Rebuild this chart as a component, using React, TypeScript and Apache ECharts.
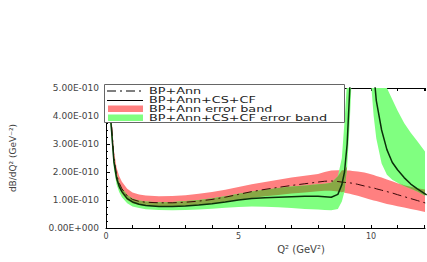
import React, { useEffect, useRef } from "react";
import * as echarts from "echarts";

// Q^2 sample points (GeV^2)
const Q2 = [0.05, 0.1, 0.15, 0.2, 0.3, 0.4, 0.5, 0.6, 0.8, 1.0, 1.25, 1.5, 2, 2.5, 3, 3.5, 4, 4.5, 5, 5.5, 6, 6.5, 7, 7.5, 8, 8.25, 8.5, 8.75, 8.9, 9.0, 9.1, 9.2, 9.3, 9.5, 9.75, 9.9, 10.0, 10.1, 10.2, 10.4, 10.6, 10.8, 11, 11.25, 11.5, 11.75, 12.1];

// dB/dQ^2 in units of 1E-010 GeV^-2
const bpAnn = [7.0, 5.6, 4.4, 3.8, 2.5, 1.9, 1.6, 1.4, 1.15, 1.02, 0.95, 0.92, 0.9, 0.9, 0.92, 0.96, 1.02, 1.1, 1.2, 1.3, 1.38, 1.45, 1.52, 1.58, 1.64, 1.67, 1.68, 1.66, 1.64, 1.63, 1.62, 1.61, 1.6, 1.56, 1.5, 1.47, 1.45, 1.43, 1.4, 1.35, 1.3, 1.25, 1.19, 1.12, 1.05, 0.98, 0.88];
const bpAnnUp = [8, 6.1, 4.7, 4.05, 2.75, 2.15, 1.85, 1.65, 1.4, 1.27, 1.2, 1.16, 1.13, 1.14, 1.17, 1.22, 1.29, 1.37, 1.46, 1.56, 1.64, 1.72, 1.8, 1.87, 1.93, 2.0, 2.05, 2.06, 2.06, 2.06, 2.05, 2.05, 2.04, 2.02, 1.98, 1.95, 1.92, 1.89, 1.86, 1.8, 1.73, 1.67, 1.6, 1.53, 1.47, 1.42, 1.36];
const bpAnnLow = [6.3, 5.1, 4.1, 3.55, 2.3, 1.7, 1.42, 1.22, 1.0, 0.88, 0.82, 0.79, 0.77, 0.77, 0.79, 0.82, 0.87, 0.93, 1.0, 1.07, 1.13, 1.18, 1.23, 1.27, 1.31, 1.33, 1.33, 1.3, 1.28, 1.26, 1.24, 1.22, 1.2, 1.15, 1.08, 1.04, 1.01, 0.98, 0.96, 0.91, 0.86, 0.82, 0.78, 0.73, 0.68, 0.63, 0.56];

const full = [7.0, 5.3, 4.2, 3.6, 2.35, 1.78, 1.48, 1.3, 1.05, 0.93, 0.85, 0.8, 0.77, 0.77, 0.79, 0.82, 0.87, 0.93, 1.0, 1.05, 1.08, 1.1, 1.12, 1.13, 1.13, 1.12, 1.1, 1.2, 1.55, 2.0, 3.0, 5.0, 8, 12, 14, 12, 7.5, 5.6, 4.55, 3.5, 2.8, 2.35, 2.08, 1.8, 1.57, 1.4, 1.18];
const fullUp = [7.5, 5.6, 4.45, 3.85, 2.55, 1.95, 1.62, 1.42, 1.18, 1.05, 0.98, 0.95, 0.92, 0.93, 0.96, 1.0, 1.06, 1.13, 1.22, 1.3, 1.37, 1.43, 1.48, 1.52, 1.56, 1.58, 1.62, 1.85, 2.5, 3.8, 5.3, 9, 12, 14, 14, 14, 12, 10, 8.5, 6.2, 5.0, 4.6, 4.2, 3.75, 3.4, 3.1, 2.65];
const fullLow = [6.0, 4.9, 3.9, 3.3, 2.1, 1.55, 1.28, 1.1, 0.88, 0.77, 0.71, 0.67, 0.64, 0.63, 0.64, 0.66, 0.69, 0.72, 0.75, 0.77, 0.76, 0.74, 0.71, 0.68, 0.66, 0.64, 0.63, 0.68, 0.95, 1.3, 2.2, 3.8, 6, 9, 9, 7, 5.2, 4.0, 3.2, 2.3, 1.9, 1.72, 1.62, 1.5, 1.4, 1.3, 1.12];

const yTicks = [0, 1, 2, 3, 4, 5];
const legendNames = ["BP+Ann", "BP+Ann+CS+CF", "BP+Ann error band", "BP+Ann+CS+CF error band"];

const RED = "#FF8080";
const GREEN = "#80FF80";
const OLIVE = "#88A845";
const FONT = "DejaVu Sans";

const pairs = (ys: number[]) => Q2.map((x, i) => [x, ys[i]]);

function band(name: string, low: number[], up: number[], color: string) {
  return {
    type: "custom",
    name,
    silent: true,
    clip: true,
    z: 2,
    data: Q2.map((x, i) => [x, low[i], up[i]]),
    encode: { x: 0, y: [1, 2] },
    renderItem: (params: any, api: any) => {
      if (params.dataIndex !== 0) return null;
      const top = Q2.map((x, i) => api.coord([x, up[i]]));
      const bottom = Q2.map((x, i) => api.coord([x, low[i]])).reverse();
      const cs = params.coordSys;
      return {
        type: "polygon",
        shape: { points: top.concat(bottom) },
        style: { fill: color, stroke: null },
        clipPath: { type: "rect", shape: { x: cs.x, y: cs.y, width: cs.width, height: cs.height } },
      };
    },
  };
}

export default function App() {
  const ref = useRef<HTMLDivElement>(null);
  useEffect(() => {
    if (!ref.current) return;
    const chart = echarts.init(ref.current, undefined, { renderer: "svg" });
    const ovLow = Q2.map((_, i) => Math.max(bpAnnLow[i], fullLow[i]));
    const ovUp = Q2.map((_, i) => Math.max(Math.min(bpAnnUp[i], fullUp[i]), ovLow[i]));
    const axisCol = { color: "#000", width: 1 };
    const legendText = (i: number, y: number) => ({
      type: "text", x: 149, y, scaleX: 1.6, z: 101,
      style: { text: legendNames[i], fontSize: 8, fontFamily: FONT, fill: "#222", verticalAlign: "middle" },
    });
    chart.setOption({
      animation: false,
      backgroundColor: "#fff",
      grid: { left: 105, top: 88, right: 0, bottom: 34, containLabel: false },
      xAxis: [
        {
          type: "value", min: 0, max: 12.04, interval: 1, position: "bottom",
          axisLine: { show: true, lineStyle: axisCol },
          axisTick: { show: true, inside: true, length: 3, lineStyle: axisCol },
          splitLine: { show: false },
          axisLabel: {
            fontSize: 8, fontFamily: FONT, color: "#444", margin: 4,
            formatter: (v: number) => (v % 5 === 0 ? String(v) : ""),
            showMaxLabel: false,
          },
          name: "Q² (GeV²)", nameLocation: "middle", nameGap: 13,
          nameTextStyle: { fontSize: 10, fontFamily: FONT, color: "#444", padding: [0, 0, 0, 71] },
        },
        {
          type: "value", min: 0, max: 12.04, interval: 1, position: "top",
          axisLine: { show: true, lineStyle: axisCol },
          axisTick: { show: true, inside: true, length: 3, lineStyle: axisCol },
          splitLine: { show: false }, axisLabel: { show: false },
        },
      ],
      yAxis: [
        {
          type: "value", min: yTicks[0], max: yTicks[yTicks.length - 1], interval: 1,
          axisLine: { show: true, lineStyle: axisCol },
          axisTick: { show: true, inside: true, length: 4, lineStyle: axisCol },
          minorTick: { show: true, splitNumber: 4, length: 2, lineStyle: axisCol },
          splitLine: { show: false },
          axisLabel: {
            fontSize: 9, fontFamily: FONT, color: "#444", margin: 7,
            formatter: (v: number) => (v === 0 ? "0.00E+000" : v.toFixed(2) + "E-010"),
          },
          name: "dB/dQ² (GeV⁻²)", nameLocation: "middle", nameGap: 89, nameRotate: 90,
          nameTextStyle: { fontSize: 9, fontFamily: FONT, color: "#444" },
        },
      ],
      series: [
        band("BP+Ann error band", bpAnnLow, bpAnnUp, RED),
        band("BP+Ann+CS+CF error band", fullLow, fullUp, GREEN),
        band("overlap", ovLow, ovUp, OLIVE),
        {
          type: "line", name: "BP+Ann", data: pairs(bpAnn), symbol: "none", z: 3,
          lineStyle: { color: "#3a0808", width: 1, type: [9, 4, 2, 4] },
        },
        {
          type: "line", name: "BP+Ann+CS+CF", data: pairs(full), symbol: "none", z: 3,
          lineStyle: { color: "#0a300a", width: 1.5 },
        },
      ],
      graphic: [
        {
          type: "rect", z: 100,
          shape: { x: 104.5, y: 84.5, width: 240, height: 38 },
          style: { fill: "#fff", stroke: "#666", lineWidth: 1 },
        },
        {
          type: "line", z: 101, shape: { x1: 107, y1: 91, x2: 143, y2: 91 },
          style: { stroke: "#000", lineWidth: 1, lineDash: [9, 4, 2, 4] },
        },
        legendText(0, 91),
        {
          type: "line", z: 101, shape: { x1: 107, y1: 100.5, x2: 143, y2: 100.5 },
          style: { stroke: "#000", lineWidth: 1 },
        },
        legendText(1, 100.5),
        {
          type: "rect", z: 101, shape: { x: 108, y: 105.5, width: 35, height: 6.5 },
          style: { fill: RED },
        },
        legendText(2, 109),
        {
          type: "rect", z: 101, shape: { x: 108, y: 114.5, width: 35, height: 6.5 },
          style: { fill: GREEN },
        },
        legendText(3, 118),
      ],
    });
    return () => chart.dispose();
  }, []);
  return (
    <div style={{ position: "fixed", left: 0, top: 0, width: 427, height: 262, overflow: "hidden", background: "#fff" }}>
      <div ref={ref} style={{ width: 427, height: 262 }} />
    </div>
  );
}
